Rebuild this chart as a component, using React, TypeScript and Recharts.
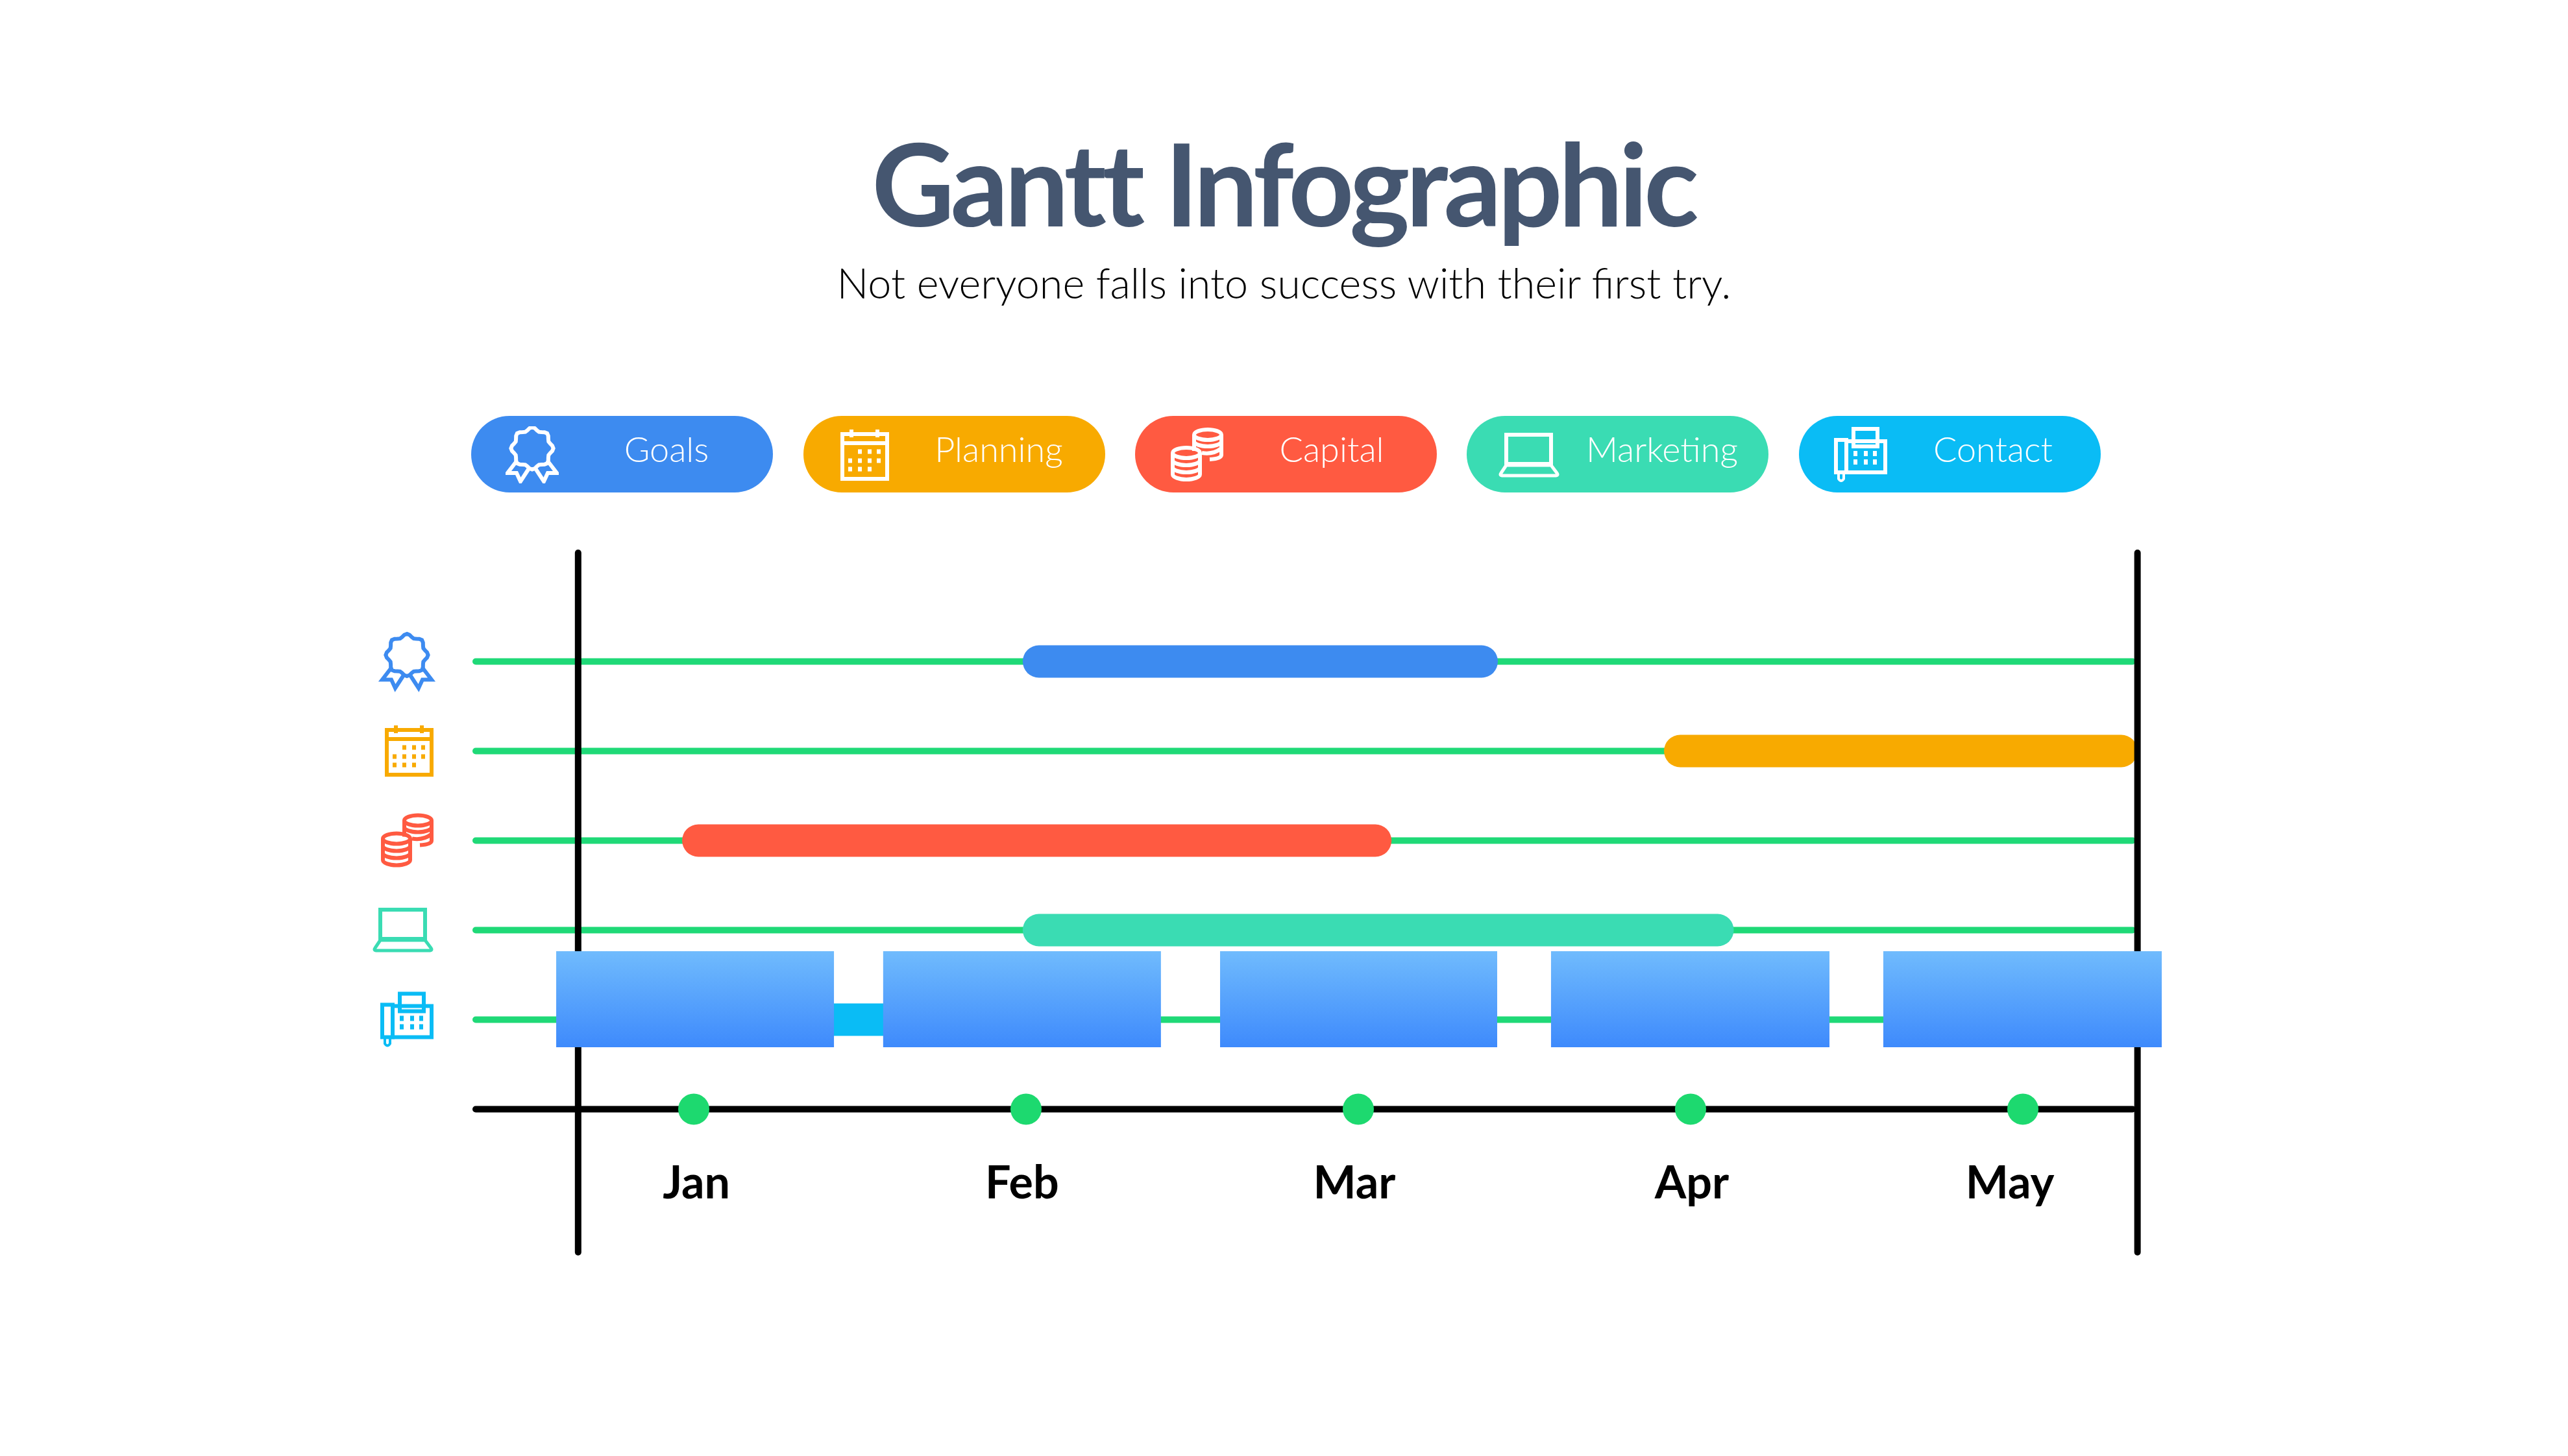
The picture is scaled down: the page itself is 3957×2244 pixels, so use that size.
import React from "react"
import { ComposedChart, Bar, Scatter, Cell, XAxis, YAxis, ReferenceArea, ReferenceLine } from "recharts"

const rowNames = ["Goals", "Planning", "Capital", "Marketing", "Contact", "axis"]
const rowColors = ["#3D8BF0", "#F8AA00", "#FF5A41", "#3ADCB3", "#0ABCF5", "#000000"]
const taskStart = [1.99, 3.92, 0.965, 1.99, 1.1]
const taskEnd = [3.42, 5.345, 3.1, 4.13, 2.2]
const trackFrom = 0.334
const trackTo = 5.34

const monthNames = ["Jan", "Feb", "Mar", "Apr", "May"]
const monthDots = [1, 2, 3, 4, 5]
const monthLabelAt = [1.008, 1.988, 2.988, 4.004, 4.961]

const coverStart = [0.586, 1.57, 2.584, 3.58, 4.58]
const coverEnd = [1.422, 2.406, 3.418, 4.418, 5.418]
const coverTop = 4.235
const coverBottom = 5.308

const rows = rowNames.map((row, i) => ({
  row,
  track: [trackFrom, trackTo],
  task: i < taskStart.length ? [taskStart[i], taskEnd[i]] : null,
}))
const dots = monthDots.map((m) => ({ month: m, pos: 6 }))

const Badge = ({ c }: { c: string }) => {
  const pts: string[] = []
  for (let i = 0; i < 48; i++) {
    const a = (i / 48) * Math.PI * 2
    const r = 30 + 2.6 * Math.cos(a * 8)
    pts.push(`${(41 + r * Math.sin(a)).toFixed(1)},${(34 - r * Math.cos(a)).toFixed(1)}`)
  }
  return (
    <g fill="none" stroke={c} strokeWidth={6}>
      <polygon points={pts.join(" ")} />
      <path d="M16 55 L3 72 H17 L23 85 L36 65 M66 55 L79 72 H65 L59 85 L46 65" strokeWidth={6} />
    </g>
  )
}

const Calendar = ({ c }: { c: string }) => {
  const cells = [
    [30, 34], [45, 34], [59, 34],
    [15, 48], [30, 48], [45, 48], [59, 48],
    [15, 61], [30, 61], [45, 61],
  ]
  return (
    <g>
      <g fill="none" stroke={c} strokeWidth={6}>
        <rect x={3} y={7} width={69} height={69} />
        <path d="M3 21 H72 M17 0 V12 M57 0 V12" />
      </g>
      {cells.map(([x, y], i) => (
        <rect key={i} x={x - 3} y={y - 3.5} width={6} height={7} fill={c} />
      ))}
    </g>
  )
}

const Coins = ({ c }: { c: string }) => (
  <g fill="none" stroke={c} strokeWidth={6}>
    <ellipse cx={57} cy={11} rx={21} ry={8} />
    <path d="M36 11 V36 M78 11 V42 Q78 48 60 49 M36 21 A21 8 0 0 0 78 21 M48 39 Q65 42 78 32" />
    <ellipse cx={24} cy={39} rx={21} ry={8} />
    <path d="M3 39 V72 A21 8 0 0 0 45 72 V39 M3 50 A21 8 0 0 0 45 50 M3 61 A21 8 0 0 0 45 61" />
  </g>
)

const Laptop = ({ c }: { c: string }) => (
  <g fill="none" stroke={c} strokeWidth={6}>
    <rect x={12} y={3} width={69} height={45} />
    <path d="M12 50 L4 62 Q1 66 7 66 H87 Q93 66 90 62 L81 50 Z" strokeWidth={5} />
  </g>
)

const Fax = ({ c }: { c: string }) => {
  const keys = [33, 49, 63]
  return (
    <g>
      <g fill="none" stroke={c} strokeWidth={6}>
        <rect x={3} y={20} width={16} height={50} />
        <rect x={19} y={22} width={60} height={48} />
        <rect x={30} y={3} width={37} height={27} fill="none" />
        <path d="M7 70 V80 Q11 86 15 80 V70" strokeWidth={4} />
      </g>
      {[41, 54].map((y) =>
        keys.map((x) => <rect key={`${x}-${y}`} x={x - 3} y={y - 4} width={6} height={8} fill={c} />)
      )}
    </g>
  )
}

const icons: Record<string, { w: number; h: number; El: React.FC<{ c: string }> }> = {
  Goals: { w: 82, h: 88, El: Badge },
  Planning: { w: 75, h: 79, El: Calendar },
  Capital: { w: 81, h: 84, El: Coins },
  Marketing: { w: 94, h: 69, El: Laptop },
  Contact: { w: 82, h: 86, El: Fax },
}

const pillLeft = [726, 1238, 1749, 2260, 2772]
const pillIconLeft = [779, 1295, 1804, 2309, 2826]
const pillTextCenter = [1027, 1539, 2052, 2561, 3071]

const RowTick = (props: any) => {
  const name = props.payload.value
  const icon = icons[name]
  if (!icon) return null
  const { El, w, h } = icon
  const color = rowColors[rowNames.indexOf(name)]
  return (
    <g transform={`translate(${668 - w},${props.y - h / 2})`}>
      <El c={color} />
    </g>
  )
}

const MonthTick = (props: any) => (
  <text
    x={props.x}
    y={1847}
    textAnchor="middle"
    fontFamily="Lato, sans-serif"
    fontWeight={700}
    fontSize={70}
    fill="#000"
  >
    {monthNames[props.index]}
  </text>
)

export default function App() {
  return (
    <div style={{ position: "absolute", left: 0, top: 0, width: 3957, height: 2244, background: "#fff", overflow: "hidden" }}>
      <div style={{ position: "absolute", left: -1, width: 3957, top: 176, textAlign: "center", color: "#455670", fontFamily: "Lato, sans-serif", fontWeight: 700, fontSize: 176, letterSpacing: -6.2, lineHeight: "210px" }}>
        Gantt Infographic
      </div>
      <div style={{ position: "absolute", left: 0, width: 3957, top: 395, textAlign: "center", color: "#000", fontFamily: "Lato, sans-serif", fontWeight: 300, fontSize: 64.7, lineHeight: "80px" }}>
        Not everyone falls into success with their first try.
      </div>

      {rowNames.slice(0, 5).map((name, i) => {
        const { El, w, h } = icons[name]
        return (
          <div key={name} style={{ position: "absolute", left: pillLeft[i], top: 641, width: 465, height: 118, borderRadius: 59, background: rowColors[i] }}>
            <svg style={{ position: "absolute", left: pillIconLeft[i] - pillLeft[i], top: 59 - h / 2 + 1 }} width={w} height={h}>
              <El c="#fff" />
            </svg>
            <div style={{ position: "absolute", left: pillTextCenter[i] - pillLeft[i] - 150, width: 300, top: 19, textAlign: "center", color: "#fff", fontFamily: "Lato, sans-serif", fontWeight: 300, fontSize: 54, lineHeight: "64px" }}>
              {name}
            </div>
          </div>
        )
      })}

      <div style={{ position: "absolute", left: 0, top: 0 }}>
        <ComposedChart
          width={3957}
          height={2244}
          layout="vertical"
          data={rows}
          margin={{ top: 852, left: 727, right: 626, bottom: 313 }}
        >
          <defs>
            <linearGradient id="coverFill" x1="0" y1="0" x2="0" y2="1">
              <stop offset="0%" stopColor="#70BBFD" />
              <stop offset="100%" stopColor="#3E8AFC" />
            </linearGradient>
          </defs>
          <XAxis
            type="number"
            dataKey="month"
            domain={[0.334, 5.418]}
            allowDataOverflow
            ticks={monthLabelAt}
            interval={0}
            height={1}
            axisLine={false}
            tickLine={false}
            tickSize={0}
            tick={(p: any) => <MonthTick {...p} />}
          />
          <YAxis
            yAxisId="task"
            type="category"
            dataKey="row"
            width={1}
            padding={{ top: 98.5, bottom: 151.5 }}
            axisLine={false}
            tickLine={false}
            tickSize={0}
            interval={0}
            tick={(p: any) => <RowTick {...p} />}
          />
          <YAxis yAxisId="track" type="category" dataKey="row" hide padding={{ top: 98.5, bottom: 151.5 }} />
          <YAxis yAxisId="cover" type="number" dataKey="pos" hide domain={[-0.214, 7.598]} allowDataOverflow />

          <Bar yAxisId="track" dataKey="track" barSize={10} radius={5} isAnimationActive={false}>
            {rows.map((r, i) => (
              <Cell key={r.row} fill={i === 5 ? "#000000" : "#1FD977"} />
            ))}
          </Bar>
          <ReferenceLine yAxisId="cover" x={0.652} stroke="#000" strokeWidth={10} strokeLinecap="round" />
          <ReferenceLine yAxisId="cover" x={5.345} stroke="#000" strokeWidth={10} strokeLinecap="round" />
          <Bar yAxisId="task" dataKey="task" barSize={50} radius={25} isAnimationActive={false}>
            {rows.map((r, i) => (
              <Cell key={r.row} fill={rowColors[i]} />
            ))}
          </Bar>
          <Scatter
            yAxisId="cover"
            data={dots}
            dataKey="pos"
            isAnimationActive={false}
            shape={(p: any) => <circle cx={p.cx} cy={p.cy} r={24} fill="#1DD96F" />}
          />
          {coverStart.map((s, i) => (
            <ReferenceArea
              key={s}
              yAxisId="cover"
              x1={s}
              x2={coverEnd[i]}
              y1={coverTop}
              y2={coverBottom}
              fill="url(#coverFill)"
              fillOpacity={1}
              stroke="none"
              zIndex={1500}
            />
          ))}
        </ComposedChart>
      </div>
    </div>
  )
}
